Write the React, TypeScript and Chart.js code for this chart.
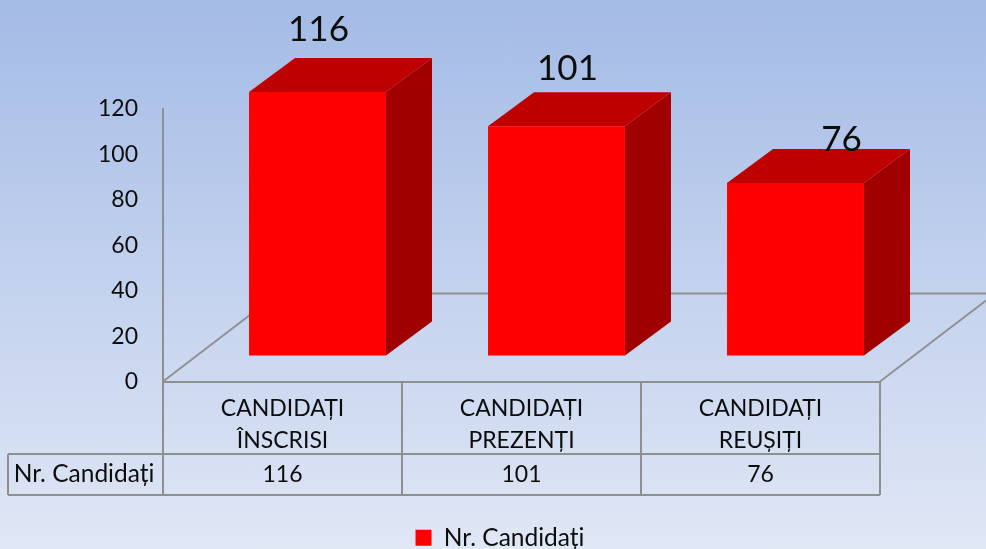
import React, { useEffect, useRef } from "react";
import { Chart, registerables } from "chart.js";

Chart.register(...registerables);

const categories = [["CANDIDAȚI", "ÎNSCRISI"], ["CANDIDAȚI", "PREZENȚI"], ["CANDIDAȚI", "REUȘIȚI"]];
const seriesName = "Nr. Candidați";
const seriesValues = [116, 101, 76];

const FONT = "Lato, 'Open Sans', sans-serif";
const INK = "#0d0d0d";
const LINE = "#8f8f8f";
const DEPTH_X = 46;
const DEPTH_Y = 34;
const SHIFT_X = 35;
const SHIFT_Y = -26;
const TABLE_ROW_TOP = 454;
const TABLE_BOTTOM = 495;
const TABLE_LEFT = 8;
const LABEL_NUDGE = [[1, -62], [11, -57], [46, -43]];

const seg = (ctx: CanvasRenderingContext2D, pts: number[][]) => {
  ctx.beginPath();
  pts.forEach(([x, y], i) => (i ? ctx.lineTo(x, y) : ctx.moveTo(x, y)));
  ctx.stroke();
};
const face = (ctx: CanvasRenderingContext2D, pts: number[][], fill: string) => {
  ctx.beginPath();
  pts.forEach(([x, y], i) => (i ? ctx.lineTo(x, y) : ctx.moveTo(x, y)));
  ctx.closePath();
  ctx.fillStyle = fill;
  ctx.fill();
};

const threeD = {
  id: "threeD",
  afterLayout(chart: any) {
    // the legend is centred on the whole picture minus the left margin, not on the plot
    if (chart.legend) chart.legend.right = chart.width;
  },
  beforeDatasetsDraw(chart: any) {
    const { ctx, chartArea: a } = chart;
    ctx.save();
    ctx.strokeStyle = LINE;
    ctx.lineWidth = 1.8;
    // floor
    seg(ctx, [[a.left, a.bottom], [a.left + 115, a.bottom - 88], [986, a.bottom - 88]]);
    seg(ctx, [[a.right, a.bottom], [986, a.bottom - 81]]);
    // data table
    ctx.lineWidth = 2;
    const xs = chart.scales.x;
    const w = (a.right - a.left) / seriesValues.length;
    for (let i = 1; i <= seriesValues.length; i++) {
      seg(ctx, [[a.left + w * i, a.bottom], [a.left + w * i, TABLE_BOTTOM]]);
    }
    seg(ctx, [[a.left, a.bottom], [a.left, TABLE_BOTTOM]]);
    seg(ctx, [[TABLE_LEFT, TABLE_ROW_TOP], [a.right, TABLE_ROW_TOP]]);
    seg(ctx, [[TABLE_LEFT, TABLE_BOTTOM], [a.right, TABLE_BOTTOM]]);
    seg(ctx, [[TABLE_LEFT, TABLE_ROW_TOP], [TABLE_LEFT, TABLE_BOTTOM]]);
    ctx.fillStyle = INK;
    ctx.textBaseline = "middle";
    ctx.textAlign = "center";
    ctx.font = `23px ${FONT}`;
    seriesValues.forEach((v, i) => ctx.fillText(String(v), xs.getPixelForValue(i), (TABLE_ROW_TOP + TABLE_BOTTOM) / 2));
    ctx.font = `24.5px ${FONT}`;
    ctx.fillText(seriesName, (TABLE_LEFT + a.left) / 2 - 1.5, (TABLE_ROW_TOP + TABLE_BOTTOM) / 2);
    ctx.restore();
  },
  beforeDatasetDraw(chart: any, args: any) {
    const { ctx } = chart;
    ctx.save();
    ctx.translate(SHIFT_X, SHIFT_Y);
    args.meta.data.forEach((el: any) => {
      const l = el.x - el.width / 2;
      const r = el.x + el.width / 2;
      const t = el.y;
      const b = el.base;
      face(ctx, [[r, t], [r + DEPTH_X, t - DEPTH_Y], [r + DEPTH_X, b - DEPTH_Y], [r, b]], "#a00000");
      face(ctx, [[l, t], [l + DEPTH_X, t - DEPTH_Y], [r + DEPTH_X, t - DEPTH_Y], [r, t]], "#bf0000");
    });
  },
  afterDatasetDraw(chart: any) {
    chart.ctx.restore();
  },
  afterDatasetsDraw(chart: any) {
    const { ctx } = chart;
    const meta = chart.getDatasetMeta(0);
    ctx.save();
    ctx.fillStyle = INK;
    ctx.font = `35px ${FONT}`;
    ctx.textAlign = "center";
    ctx.textBaseline = "middle";
    meta.data.forEach((el: any, i: number) => {
      const [nx, ny] = LABEL_NUDGE[i];
      ctx.fillText(String(seriesValues[i]), el.x + SHIFT_X + nx, el.y + SHIFT_Y + ny);
    });
    ctx.restore();
  },
};

export default function App() {
  const ref = useRef<HTMLCanvasElement>(null);
  useEffect(() => {
    const chart = new Chart(ref.current!, {
      type: "bar",
      data: {
        labels: categories,
        datasets: [
          {
            label: seriesName,
            data: seriesValues,
            backgroundColor: "#ff0000",
            borderWidth: 0,
            barPercentage: 0.573,
            categoryPercentage: 1,
            clip: false as any,
          },
        ],
      },
      options: {
        responsive: false,
        animation: false,
        layout: { padding: { left: 14, top: 109, right: 106, bottom: -11 } },
        plugins: {
          tooltip: { enabled: false },
          legend: {
            position: "bottom",
            labels: {
              boxWidth: 16,
              boxHeight: 16,
              padding: 2,
              color: INK,
              font: { family: FONT, size: 24.5 },
            },
          },
        },
        scales: {
          x: {
            afterFit: (s: any) => {
              s.height = 142;
            },
            grid: { display: false, drawTicks: false },
            border: { color: LINE, width: 2 },
            ticks: {
              padding: 11,
              color: INK,
              maxRotation: 0,
              autoSkip: false,
              font: { family: FONT, size: 23, lineHeight: 1.39 },
            },
          },
          y: {
            min: 0,
            max: 120,
            afterFit: (s: any) => {
              s.width = 149;
            },
            grid: { display: false, drawTicks: false },
            border: { color: LINE, width: 2 },
            ticks: {
              stepSize: 20,
              padding: 25,
              color: INK,
              font: { family: FONT, size: 23 },
            },
          },
        },
      },
      plugins: [threeD],
    } as any);
    return () => chart.destroy();
  }, []);
  return (
    <div
      style={{
        position: "absolute",
        left: 0,
        top: 0,
        width: 986,
        height: 549,
        overflow: "hidden",
        background: "linear-gradient(180deg, #a4bbe6 0%, #e0e7f5 100%)",
      }}
    >
      <canvas ref={ref} width={986} height={549} style={{ display: "block" }} />
    </div>
  );
}
